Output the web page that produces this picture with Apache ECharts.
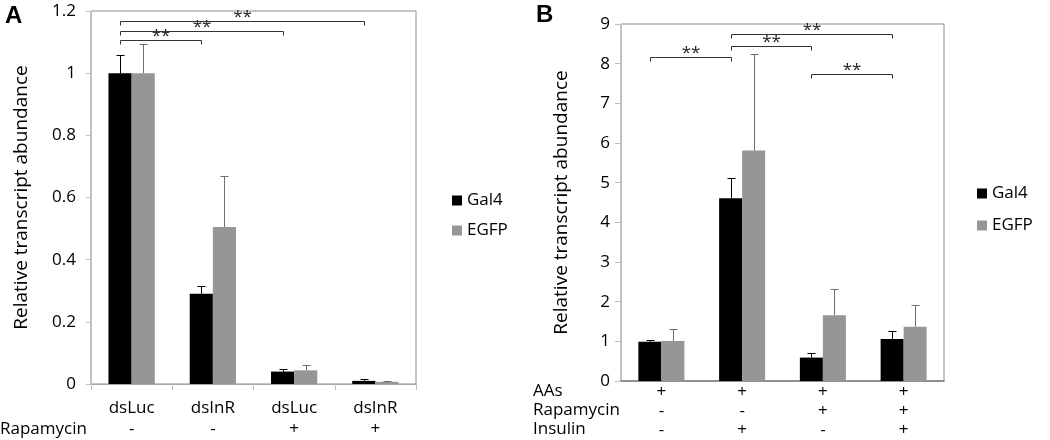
<!DOCTYPE html>
<html>
<head>
<meta charset="utf-8">
<script src="https://cdn.jsdelivr.net/npm/echarts@6/dist/echarts.min.js"></script>
<style>
  html, body { margin: 0; background: #fff; }
  #chart { width: 1050px; height: 440px; }
</style>
</head>
<body>
<div id="chart"></div>
<script>
// panel A
const groupsA = ['dsLuc', 'dsInR', 'dsLuc', 'dsInR'];
const rapamycinA = ['-', '-', '+', '+'];
const gal4A = [1.0, 0.29, 0.04, 0.01];
const egfpA = [1.0, 0.505, 0.044, 0.007];
const gal4ErrA = [0.057, 0.025, 0.008, 0.006];
const egfpErrA = [0.095, 0.163, 0.016, 0.003];
const sigA = [[0, 1, 1.106], [0, 2, 1.136], [0, 3, 1.169]]; // [from, to, height]

// panel B
const groupsB = ['1', '2', '3', '4'];
const aasB = ['+', '+', '+', '+'];
const rapamycinB = ['-', '-', '+', '+'];
const insulinB = ['-', '+', '-', '+'];
const gal4B = [0.99, 4.61, 0.59, 1.06];
const egfpB = [1.01, 5.81, 1.66, 1.37];
const gal4ErrB = [0.05, 0.51, 0.11, 0.20];
const egfpErrB = [0.29, 2.43, 0.67, 0.55];
const sigB = [[0, 1, 8.16], [1, 2, 8.45], [1, 3, 8.75], [2, 3, 7.75]];

const BAR_FRAC = 0.285;
const FONT = '"Open Sans", sans-serif';
const GREY = '#969696';

const errorSeries = (means, errs, idx, side, color) => ({
  type: 'custom',
  xAxisIndex: idx,
  yAxisIndex: idx,
  z: 3,
  silent: true,
  data: means.map((m, i) => [i, m, m + errs[i]]),
  encode: { x: 0, y: [1, 2] },
  renderItem: (params, api) => {
    const bw = api.size([1, 0])[0] * BAR_FRAC;
    const base = api.coord([api.value(0), api.value(1)]);
    const top = api.coord([api.value(0), api.value(2)]);
    const x = Math.round(base[0] + side * bw / 2) + 0.5;
    const yt = Math.round(top[1]) + 0.5;
    return {
      type: 'group',
      children: [
        { type: 'line', shape: { x1: x, y1: base[1], x2: x, y2: yt }, style: { stroke: color, lineWidth: 1 } },
        { type: 'line', shape: { x1: x - 4, y1: yt, x2: x + 4, y2: yt }, style: { stroke: color, lineWidth: 1 } }
      ]
    };
  }
});

const sigSeries = (rows, idx) => ({
  type: 'custom',
  xAxisIndex: idx,
  yAxisIndex: idx,
  z: 4,
  silent: true,
  data: rows,
  encode: { x: [0, 1], y: 2 },
  renderItem: (params, api) => {
    const bw = api.size([1, 0])[0] * BAR_FRAC;
    const p1 = api.coord([api.value(0), api.value(2)]);
    const p2 = api.coord([api.value(1), api.value(2)]);
    const x1 = Math.round(p1[0] - bw / 2) + 0.5;
    const x2 = Math.round(p2[0] - bw / 2) + 0.5;
    const y = Math.round(p1[1]) + 0.5;
    return {
      type: 'group',
      children: [
        { type: 'polyline', shape: { points: [[x1, y + 4], [x1, y], [x2, y], [x2, y + 4]] },
          style: { stroke: '#333', fill: null, lineWidth: 1 } },
        { type: 'text', style: { text: '**', x: (x1 + x2) / 2, y: y + 4, align: 'center',
          verticalAlign: 'bottom', font: '17px ' + FONT, fill: '#222' } }
      ]
    };
  }
});

const barSeries = (name, data, idx, color) => ({
  name: name,
  type: 'bar',
  xAxisIndex: idx,
  yAxisIndex: idx,
  data: data,
  barWidth: (BAR_FRAC * 100) + '%',
  barGap: '0%',
  itemStyle: { color: color },
  silent: true
});

const labelStyle = { color: '#000', fontFamily: FONT, fontSize: 17 };

const chart = echarts.init(document.getElementById('chart'));
chart.setOption({
  animation: false,
  textStyle: { fontFamily: FONT },
  grid: [
    { left: 91, top: 11, width: 325, height: 373, show: true, borderColor: '#8c8c8c', borderWidth: 1 },
    { left: 621, top: 24, width: 323, height: 359, show: true, borderColor: '#8c8c8c', borderWidth: 1 }
  ],
  xAxis: [
    {
      type: 'category', gridIndex: 0, data: groupsA,
      axisLine: { lineStyle: { color: '#a6a6a6' } },
      axisTick: { show: true, length: 6, lineStyle: { color: '#bfbfbf' } },
      axisLabel: Object.assign({}, labelStyle, {
        margin: 14, lineHeight: 21,
        formatter: (v, i) => groupsA[i] + '\n' + rapamycinA[i]
      })
    },
    {
      type: 'category', gridIndex: 1, data: groupsB,
      axisLine: { lineStyle: { color: '#808080', width: 1.5 } },
      axisTick: { show: false },
      axisLabel: Object.assign({}, labelStyle, {
        margin: 2, lineHeight: 19,
        formatter: (v, i) => aasB[i] + '\n' + rapamycinB[i] + '\n' + insulinB[i]
      })
    }
  ],
  yAxis: [
    {
      type: 'value', gridIndex: 0, min: 0, max: 1.2, interval: 0.2,
      name: 'Relative transcript abundance', nameLocation: 'middle', nameGap: 60,
      nameTextStyle: { color: '#000', fontSize: 19, fontFamily: FONT },
      axisLine: { show: true, lineStyle: { color: '#bfbfbf' } },
      axisTick: { show: true, length: 5, lineStyle: { color: '#bfbfbf' } },
      splitLine: { show: false },
      axisLabel: Object.assign({}, labelStyle, { margin: 15 })
    },
    {
      type: 'value', gridIndex: 1, min: 0, max: 9, interval: 1,
      name: 'Relative transcript abundance', nameLocation: 'middle', nameGap: 50,
      nameTextStyle: { color: '#000', fontSize: 19, fontFamily: FONT },
      axisLine: { show: true, lineStyle: { color: '#bfbfbf' } },
      axisTick: { show: true, length: 6, lineStyle: { color: '#bfbfbf' } },
      splitLine: { show: false },
      axisLabel: Object.assign({}, labelStyle, { margin: 11 })
    }
  ],
  legend: [
    {
      orient: 'vertical', left: 447, top: 187, itemWidth: 10, itemHeight: 10, itemGap: 13,
      icon: 'rect', data: ['Gal4', 'EGFP'], selectedMode: false,
      textStyle: labelStyle
    },
    {
      orient: 'vertical', left: 972, top: 180, itemWidth: 10, itemHeight: 10, itemGap: 15,
      icon: 'rect', data: ['Gal4', 'EGFP'], selectedMode: false,
      textStyle: labelStyle
    }
  ],
  graphic: [
    { type: 'text', left: 5, top: 4, style: { text: 'A', font: 'bold 24px "Liberation Sans", sans-serif', fill: '#000' } },
    { type: 'text', left: 536, top: 3, style: { text: 'B', font: 'bold 24px "Liberation Sans", sans-serif', fill: '#000' } },
    { type: 'text', left: 0, top: 421, style: { text: 'Rapamycin', font: '17px ' + FONT, fill: '#000' } },
    { type: 'text', left: 533, top: 383, style: { text: 'AAs', font: '17px ' + FONT, fill: '#000' } },
    { type: 'text', left: 533, top: 402, style: { text: 'Rapamycin', font: '17px ' + FONT, fill: '#000' } },
    { type: 'text', left: 533, top: 421, style: { text: 'Insulin', font: '17px ' + FONT, fill: '#000' } }
  ],
  series: [
    barSeries('Gal4', gal4A, 0, '#000'),
    barSeries('EGFP', egfpA, 0, GREY),
    barSeries('Gal4', gal4B, 1, '#000'),
    barSeries('EGFP', egfpB, 1, GREY),
    errorSeries(gal4A, gal4ErrA, 0, -1, '#000'),
    errorSeries(egfpA, egfpErrA, 0, 1, '#6e6e6e'),
    errorSeries(gal4B, gal4ErrB, 1, -1, '#000'),
    errorSeries(egfpB, egfpErrB, 1, 1, '#6e6e6e'),
    sigSeries(sigA, 0),
    sigSeries(sigB, 1)
  ]
});
</script>
</body>
</html>
